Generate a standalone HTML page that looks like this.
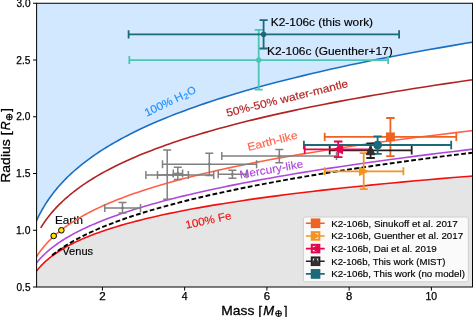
<!DOCTYPE html>
<html><head><meta charset="utf-8"><style>
html,body{margin:0;padding:0;background:#fff;}
svg{display:block;}
text{font-family:"Liberation Sans",sans-serif;}
svg{will-change:transform;}
</style></head><body>
<svg xmlns="http://www.w3.org/2000/svg" width="473" height="317" viewBox="0 0 473 317">
<rect x="0" y="0" width="473" height="317" fill="#fff"/>
<defs><clipPath id="ax"><rect x="36.60" y="3.25" width="435.92" height="283.75"/></clipPath></defs>
<g clip-path="url(#ax)">
<path d="M32.49,230.54 L32.87,229.51 L33.26,228.48 L33.67,227.44 L34.08,226.39 L34.51,225.34 L34.96,224.27 L35.42,223.20 L35.89,222.12 L36.37,221.03 L36.87,219.93 L37.39,218.83 L37.92,217.71 L38.47,216.59 L39.04,215.46 L39.62,214.32 L40.22,213.17 L40.84,212.02 L41.48,210.85 L42.14,209.68 L42.82,208.50 L43.52,207.31 L44.24,206.11 L44.99,204.90 L45.75,203.69 L46.54,202.46 L47.36,201.23 L48.20,199.98 L49.07,198.73 L49.96,197.47 L50.88,196.20 L51.83,194.92 L52.81,193.63 L53.82,192.33 L54.86,191.03 L55.93,189.71 L57.03,188.38 L58.17,187.05 L59.35,185.70 L60.56,184.35 L61.80,182.98 L63.09,181.61 L64.42,180.22 L65.78,178.83 L67.19,177.43 L68.65,176.01 L70.15,174.59 L71.69,173.16 L73.28,171.72 L74.92,170.26 L76.61,168.80 L78.36,167.33 L80.16,165.84 L82.01,164.35 L83.92,162.85 L85.89,161.33 L87.92,159.81 L90.01,158.27 L92.17,156.73 L94.40,155.17 L96.69,153.61 L99.05,152.03 L101.49,150.44 L104.00,148.84 L106.59,147.24 L109.26,145.62 L112.01,143.99 L114.85,142.34 L117.78,140.69 L120.79,139.03 L123.90,137.35 L127.10,135.67 L130.41,133.97 L133.81,132.26 L137.32,130.54 L140.94,128.81 L144.67,127.07 L148.52,125.32 L152.49,123.56 L156.57,121.78 L160.79,119.99 L165.13,118.19 L169.61,116.38 L174.22,114.56 L178.98,112.73 L183.89,110.88 L188.95,109.02 L194.16,107.15 L199.53,105.27 L205.08,103.38 L210.79,101.47 L216.68,99.56 L222.75,97.63 L229.00,95.69 L235.45,93.73 L242.10,91.77 L248.96,89.79 L256.03,87.80 L263.31,85.80 L270.82,83.78 L278.56,81.75 L286.55,79.71 L294.77,77.66 L303.26,75.60 L312.00,73.52 L321.01,71.43 L330.31,69.33 L339.89,67.21 L349.76,65.08 L359.94,62.94 L370.44,60.79 L381.26,58.62 L392.41,56.44 L403.91,54.24 L415.76,52.04 L427.98,49.82 L440.58,47.59 L453.56,45.34 L466.95,43.08 L480.75,40.81 L480.75,-1.75 L32.49,-1.75 Z" fill="#d2e8fe"/>
<path d="M32.49,276.78 L32.87,276.18 L33.26,275.58 L33.67,274.97 L34.08,274.35 L34.51,273.74 L34.96,273.11 L35.42,272.49 L35.89,271.86 L36.37,271.22 L36.87,270.59 L37.39,269.94 L37.92,269.30 L38.47,268.65 L39.04,267.99 L39.62,267.33 L40.22,266.67 L40.84,266.00 L41.48,265.33 L42.14,264.66 L42.82,263.98 L43.52,263.29 L44.24,262.60 L44.99,261.91 L45.75,261.21 L46.54,260.51 L47.36,259.81 L48.20,259.10 L49.07,258.39 L49.96,257.67 L50.88,256.94 L51.83,256.22 L52.81,255.49 L53.82,254.75 L54.86,254.01 L55.93,253.27 L57.03,252.52 L58.17,251.77 L59.35,251.01 L60.56,250.25 L61.80,249.48 L63.09,248.72 L64.42,247.94 L65.78,247.16 L67.19,246.38 L68.65,245.59 L70.15,244.80 L71.69,244.00 L73.28,243.20 L74.92,242.40 L76.61,241.59 L78.36,240.78 L80.16,239.96 L82.01,239.14 L83.92,238.31 L85.89,237.48 L87.92,236.64 L90.01,235.80 L92.17,234.96 L94.40,234.11 L96.69,233.26 L99.05,232.40 L101.49,231.54 L104.00,230.67 L106.59,229.80 L109.26,228.93 L112.01,228.05 L114.85,227.17 L117.78,226.28 L120.79,225.39 L123.90,224.49 L127.10,223.59 L130.41,222.68 L133.81,221.77 L137.32,220.86 L140.94,219.94 L144.67,219.02 L148.52,218.09 L152.49,217.16 L156.57,216.22 L160.79,215.28 L165.13,214.34 L169.61,213.39 L174.22,212.44 L178.98,211.48 L183.89,210.52 L188.95,209.55 L194.16,208.58 L199.53,207.61 L205.08,206.63 L210.79,205.65 L216.68,204.66 L222.75,203.67 L229.00,202.67 L235.45,201.67 L242.10,200.67 L248.96,199.66 L256.03,198.65 L263.31,197.63 L270.82,196.61 L278.56,195.59 L286.55,194.56 L294.77,193.53 L303.26,192.49 L312.00,191.45 L321.01,190.40 L330.31,189.35 L339.89,188.30 L349.76,187.24 L359.94,186.18 L370.44,185.12 L381.26,184.05 L392.41,182.97 L403.91,181.90 L415.76,180.82 L427.98,179.73 L440.58,178.64 L453.56,177.55 L466.95,176.45 L480.75,175.35 L480.75,292.00 L32.49,292.00 Z" fill="#e5e5e5"/>
<text x="55.04" y="223.50" font-size="10.6" fill="#000" text-anchor="start" textLength="27.92" lengthAdjust="spacingAndGlyphs" stroke="#000" stroke-width="0.15">Earth</text>
<text x="62.35" y="255.00" font-size="10.6" fill="#000" text-anchor="start" textLength="30.74" lengthAdjust="spacingAndGlyphs" stroke="#000" stroke-width="0.15">Venus</text>
<path d="M32.49,230.54 L32.87,229.51 L33.26,228.48 L33.67,227.44 L34.08,226.39 L34.51,225.34 L34.96,224.27 L35.42,223.20 L35.89,222.12 L36.37,221.03 L36.87,219.93 L37.39,218.83 L37.92,217.71 L38.47,216.59 L39.04,215.46 L39.62,214.32 L40.22,213.17 L40.84,212.02 L41.48,210.85 L42.14,209.68 L42.82,208.50 L43.52,207.31 L44.24,206.11 L44.99,204.90 L45.75,203.69 L46.54,202.46 L47.36,201.23 L48.20,199.98 L49.07,198.73 L49.96,197.47 L50.88,196.20 L51.83,194.92 L52.81,193.63 L53.82,192.33 L54.86,191.03 L55.93,189.71 L57.03,188.38 L58.17,187.05 L59.35,185.70 L60.56,184.35 L61.80,182.98 L63.09,181.61 L64.42,180.22 L65.78,178.83 L67.19,177.43 L68.65,176.01 L70.15,174.59 L71.69,173.16 L73.28,171.72 L74.92,170.26 L76.61,168.80 L78.36,167.33 L80.16,165.84 L82.01,164.35 L83.92,162.85 L85.89,161.33 L87.92,159.81 L90.01,158.27 L92.17,156.73 L94.40,155.17 L96.69,153.61 L99.05,152.03 L101.49,150.44 L104.00,148.84 L106.59,147.24 L109.26,145.62 L112.01,143.99 L114.85,142.34 L117.78,140.69 L120.79,139.03 L123.90,137.35 L127.10,135.67 L130.41,133.97 L133.81,132.26 L137.32,130.54 L140.94,128.81 L144.67,127.07 L148.52,125.32 L152.49,123.56 L156.57,121.78 L160.79,119.99 L165.13,118.19 L169.61,116.38 L174.22,114.56 L178.98,112.73 L183.89,110.88 L188.95,109.02 L194.16,107.15 L199.53,105.27 L205.08,103.38 L210.79,101.47 L216.68,99.56 L222.75,97.63 L229.00,95.69 L235.45,93.73 L242.10,91.77 L248.96,89.79 L256.03,87.80 L263.31,85.80 L270.82,83.78 L278.56,81.75 L286.55,79.71 L294.77,77.66 L303.26,75.60 L312.00,73.52 L321.01,71.43 L330.31,69.33 L339.89,67.21 L349.76,65.08 L359.94,62.94 L370.44,60.79 L381.26,58.62 L392.41,56.44 L403.91,54.24 L415.76,52.04 L427.98,49.82 L440.58,47.59 L453.56,45.34 L466.95,43.08 L480.75,40.81" fill="none" stroke="#1a6fc2" stroke-width="1.6"/>
<path d="M40.71,227.87 L41.26,226.99 L41.82,226.10 L42.39,225.21 L42.98,224.31 L43.58,223.41 L44.20,222.50 L44.84,221.58 L45.49,220.66 L46.16,219.73 L46.85,218.80 L47.56,217.86 L48.28,216.92 L49.03,215.97 L49.79,215.01 L50.58,214.05 L51.38,213.08 L52.21,212.11 L53.06,211.13 L53.93,210.15 L54.82,209.16 L55.74,208.16 L56.68,207.16 L57.65,206.15 L58.64,205.14 L59.66,204.12 L60.71,203.09 L61.78,202.06 L62.88,201.02 L64.02,199.98 L65.18,198.93 L66.37,197.87 L67.59,196.81 L68.85,195.74 L70.14,194.67 L71.46,193.59 L72.82,192.50 L74.21,191.41 L75.64,190.31 L77.11,189.20 L78.62,188.09 L80.17,186.97 L81.76,185.85 L83.39,184.71 L85.06,183.58 L86.78,182.43 L88.54,181.28 L90.35,180.13 L92.21,178.96 L94.12,177.79 L96.08,176.62 L98.09,175.43 L100.15,174.25 L102.27,173.05 L104.44,171.85 L106.67,170.64 L108.97,169.42 L111.32,168.20 L113.73,166.97 L116.21,165.74 L118.75,164.49 L121.36,163.25 L124.04,161.99 L126.79,160.73 L129.61,159.46 L132.51,158.18 L135.48,156.90 L138.54,155.61 L141.67,154.31 L144.89,153.01 L148.19,151.70 L151.58,150.38 L155.06,149.06 L158.63,147.73 L162.29,146.39 L166.06,145.04 L169.92,143.69 L173.88,142.33 L177.95,140.97 L182.13,139.59 L186.42,138.21 L190.82,136.82 L195.34,135.43 L199.97,134.03 L204.73,132.62 L209.62,131.20 L214.63,129.78 L219.78,128.35 L225.07,126.91 L230.49,125.47 L236.06,124.01 L241.77,122.55 L247.64,121.09 L253.66,119.61 L259.84,118.13 L266.19,116.64 L272.70,115.15 L279.39,113.64 L286.25,112.13 L293.29,110.61 L300.52,109.09 L307.95,107.55 L315.56,106.01 L323.38,104.46 L331.41,102.91 L339.65,101.35 L348.11,99.78 L356.79,98.20 L365.70,96.61 L374.85,95.02 L384.24,93.42 L393.87,91.81 L403.77,90.19 L413.92,88.57 L424.34,86.94 L435.04,85.30 L446.03,83.65 L457.30,82.00 L468.87,80.33 L480.75,78.66" fill="none" stroke="#b22222" stroke-width="1.6"/>
<path d="M32.49,263.70 L32.87,262.96 L33.26,262.22 L33.67,261.47 L34.08,260.72 L34.51,259.96 L34.96,259.19 L35.42,258.42 L35.89,257.65 L36.37,256.87 L36.87,256.08 L37.39,255.28 L37.92,254.48 L38.47,253.68 L39.04,252.87 L39.62,252.05 L40.22,251.23 L40.84,250.40 L41.48,249.56 L42.14,248.72 L42.82,247.88 L43.52,247.02 L44.24,246.16 L44.99,245.30 L45.75,244.43 L46.54,243.55 L47.36,242.66 L48.20,241.77 L49.07,240.88 L49.96,239.98 L50.88,239.07 L51.83,238.15 L52.81,237.23 L53.82,236.30 L54.86,235.37 L55.93,234.43 L57.03,233.48 L58.17,232.52 L59.35,231.56 L60.56,230.60 L61.80,229.62 L63.09,228.64 L64.42,227.65 L65.78,226.66 L67.19,225.66 L68.65,224.65 L70.15,223.64 L71.69,222.62 L73.28,221.59 L74.92,220.56 L76.61,219.52 L78.36,218.47 L80.16,217.41 L82.01,216.35 L83.92,215.28 L85.89,214.21 L87.92,213.12 L90.01,212.03 L92.17,210.94 L94.40,209.83 L96.69,208.72 L99.05,207.60 L101.49,206.48 L104.00,205.34 L106.59,204.20 L109.26,203.06 L112.01,201.90 L114.85,200.74 L117.78,199.57 L120.79,198.40 L123.90,197.21 L127.10,196.02 L130.41,194.82 L133.81,193.62 L137.32,192.40 L140.94,191.18 L144.67,189.95 L148.52,188.72 L152.49,187.47 L156.57,186.22 L160.79,184.96 L165.13,183.70 L169.61,182.42 L174.22,181.14 L178.98,179.85 L183.89,178.56 L188.95,177.25 L194.16,175.94 L199.53,174.62 L205.08,173.29 L210.79,171.95 L216.68,170.61 L222.75,169.26 L229.00,167.90 L235.45,166.53 L242.10,165.16 L248.96,163.77 L256.03,162.38 L263.31,160.98 L270.82,159.58 L278.56,158.16 L286.55,156.74 L294.77,155.31 L303.26,153.87 L312.00,152.42 L321.01,150.97 L330.31,149.50 L339.89,148.03 L349.76,146.55 L359.94,145.07 L370.44,143.57 L381.26,142.07 L392.41,140.55 L403.91,139.03 L415.76,137.50 L427.98,135.97 L440.58,134.42 L453.56,132.87 L466.95,131.31 L480.75,129.74" fill="none" stroke="#ff6347" stroke-width="1.6"/>
<path d="M32.49,268.57 L32.87,267.98 L33.26,267.39 L33.67,266.79 L34.08,266.19 L34.51,265.58 L34.96,264.97 L35.42,264.35 L35.89,263.73 L36.37,263.10 L36.87,262.47 L37.39,261.83 L37.92,261.19 L38.47,260.54 L39.04,259.89 L39.62,259.23 L40.22,258.56 L40.84,257.89 L41.48,257.21 L42.14,256.53 L42.82,255.84 L43.52,255.15 L44.24,254.45 L44.99,253.74 L45.75,253.03 L46.54,252.31 L47.36,251.59 L48.20,250.86 L49.07,250.12 L49.96,249.38 L50.88,248.63 L51.83,247.88 L52.81,247.12 L53.82,246.35 L54.86,245.57 L55.93,244.79 L57.03,244.01 L58.17,243.21 L59.35,242.41 L60.56,241.60 L61.80,240.79 L63.09,239.96 L64.42,239.14 L65.78,238.30 L67.19,237.46 L68.65,236.61 L70.15,235.75 L71.69,234.88 L73.28,234.01 L74.92,233.13 L76.61,232.25 L78.36,231.35 L80.16,230.45 L82.01,229.54 L83.92,228.62 L85.89,227.69 L87.92,226.76 L90.01,225.82 L92.17,224.87 L94.40,223.91 L96.69,222.94 L99.05,221.97 L101.49,220.99 L104.00,219.99 L106.59,218.99 L109.26,217.98 L112.01,216.97 L114.85,215.94 L117.78,214.91 L120.79,213.86 L123.90,212.81 L127.10,211.75 L130.41,210.67 L133.81,209.59 L137.32,208.50 L140.94,207.40 L144.67,206.30 L148.52,205.18 L152.49,204.05 L156.57,202.91 L160.79,201.76 L165.13,200.60 L169.61,199.44 L174.22,198.26 L178.98,197.07 L183.89,195.87 L188.95,194.66 L194.16,193.44 L199.53,192.21 L205.08,190.97 L210.79,189.72 L216.68,188.46 L222.75,187.18 L229.00,185.90 L235.45,184.60 L242.10,183.29 L248.96,181.97 L256.03,180.64 L263.31,179.30 L270.82,177.95 L278.56,176.58 L286.55,175.20 L294.77,173.81 L303.26,172.41 L312.00,171.00 L321.01,169.57 L330.31,168.13 L339.89,166.68 L349.76,165.21 L359.94,163.74 L370.44,162.24 L381.26,160.74 L392.41,159.22 L403.91,157.69 L415.76,156.15 L427.98,154.59 L440.58,153.02 L453.56,151.43 L466.95,149.84 L480.75,148.22" fill="none" stroke="#ae48d8" stroke-width="1.6"/>
<path d="M32.49,276.78 L32.87,276.18 L33.26,275.58 L33.67,274.97 L34.08,274.35 L34.51,273.74 L34.96,273.11 L35.42,272.49 L35.89,271.86 L36.37,271.22 L36.87,270.59 L37.39,269.94 L37.92,269.30 L38.47,268.65 L39.04,267.99 L39.62,267.33 L40.22,266.67 L40.84,266.00 L41.48,265.33 L42.14,264.66 L42.82,263.98 L43.52,263.29 L44.24,262.60 L44.99,261.91 L45.75,261.21 L46.54,260.51 L47.36,259.81 L48.20,259.10 L49.07,258.39 L49.96,257.67 L50.88,256.94 L51.83,256.22 L52.81,255.49 L53.82,254.75 L54.86,254.01 L55.93,253.27 L57.03,252.52 L58.17,251.77 L59.35,251.01 L60.56,250.25 L61.80,249.48 L63.09,248.72 L64.42,247.94 L65.78,247.16 L67.19,246.38 L68.65,245.59 L70.15,244.80 L71.69,244.00 L73.28,243.20 L74.92,242.40 L76.61,241.59 L78.36,240.78 L80.16,239.96 L82.01,239.14 L83.92,238.31 L85.89,237.48 L87.92,236.64 L90.01,235.80 L92.17,234.96 L94.40,234.11 L96.69,233.26 L99.05,232.40 L101.49,231.54 L104.00,230.67 L106.59,229.80 L109.26,228.93 L112.01,228.05 L114.85,227.17 L117.78,226.28 L120.79,225.39 L123.90,224.49 L127.10,223.59 L130.41,222.68 L133.81,221.77 L137.32,220.86 L140.94,219.94 L144.67,219.02 L148.52,218.09 L152.49,217.16 L156.57,216.22 L160.79,215.28 L165.13,214.34 L169.61,213.39 L174.22,212.44 L178.98,211.48 L183.89,210.52 L188.95,209.55 L194.16,208.58 L199.53,207.61 L205.08,206.63 L210.79,205.65 L216.68,204.66 L222.75,203.67 L229.00,202.67 L235.45,201.67 L242.10,200.67 L248.96,199.66 L256.03,198.65 L263.31,197.63 L270.82,196.61 L278.56,195.59 L286.55,194.56 L294.77,193.53 L303.26,192.49 L312.00,191.45 L321.01,190.40 L330.31,189.35 L339.89,188.30 L349.76,187.24 L359.94,186.18 L370.44,185.12 L381.26,184.05 L392.41,182.97 L403.91,181.90 L415.76,180.82 L427.98,179.73 L440.58,178.64 L453.56,177.55 L466.95,176.45 L480.75,175.35" fill="none" stroke="#f01010" stroke-width="1.6"/>
<path d="M51.12,256.10 L51.83,255.52 L52.55,254.93 L53.30,254.34 L54.06,253.74 L54.84,253.14 L55.63,252.54 L56.45,251.93 L57.28,251.32 L58.13,250.71 L59.00,250.09 L59.89,249.46 L60.81,248.83 L61.74,248.20 L62.69,247.57 L63.67,246.93 L64.67,246.28 L65.69,245.63 L66.73,244.98 L67.80,244.33 L68.90,243.66 L70.02,243.00 L71.16,242.33 L72.33,241.65 L73.53,240.98 L74.75,240.29 L76.00,239.61 L77.29,238.91 L78.60,238.22 L79.94,237.52 L81.31,236.81 L82.71,236.10 L84.15,235.39 L85.62,234.67 L87.12,233.94 L88.66,233.21 L90.23,232.48 L91.84,231.74 L93.48,231.00 L95.16,230.25 L96.88,229.50 L98.65,228.74 L100.45,227.98 L102.29,227.21 L104.17,226.44 L106.10,225.66 L108.07,224.88 L110.09,224.09 L112.15,223.30 L114.27,222.50 L116.43,221.70 L118.63,220.89 L120.89,220.08 L123.21,219.26 L125.57,218.43 L127.99,217.60 L130.46,216.77 L132.99,215.93 L135.58,215.08 L138.23,214.23 L140.94,213.38 L143.71,212.51 L146.55,211.65 L149.45,210.77 L152.42,209.89 L155.45,209.01 L158.56,208.12 L161.73,207.22 L164.98,206.32 L168.30,205.41 L171.70,204.50 L175.18,203.58 L178.74,202.65 L182.38,201.72 L186.10,200.78 L189.91,199.84 L193.80,198.89 L197.78,197.93 L201.86,196.97 L206.03,196.00 L210.29,195.03 L214.66,194.05 L219.12,193.06 L223.69,192.07 L228.36,191.07 L233.13,190.06 L238.02,189.05 L243.02,188.03 L248.13,187.00 L253.36,185.97 L258.72,184.93 L264.19,183.88 L269.79,182.83 L275.52,181.77 L281.38,180.70 L287.37,179.63 L293.50,178.55 L299.77,177.46 L306.19,176.37 L312.75,175.26 L319.47,174.16 L326.33,173.04 L333.36,171.92 L340.55,170.79 L347.90,169.65 L355.42,168.51 L363.11,167.35 L370.98,166.19 L379.03,165.03 L387.26,163.85 L395.69,162.67 L404.30,161.48 L413.12,160.28 L422.14,159.08 L431.36,157.87 L440.79,156.64 L450.45,155.42 L460.32,154.18 L470.42,152.94 L480.75,151.68" fill="none" stroke="#000" stroke-width="1.9" stroke-dasharray="4.8,2.4" stroke-dashoffset="5.9"/>
<path d="M104.80,208.00 H140.50 M104.80,204.00 V212.00 M140.50,204.00 V212.00" stroke="#808080" stroke-width="1.5" fill="none"/><path d="M122.50,202.50 V213.00 M118.50,202.50 H126.50 M118.50,213.00 H126.50" stroke="#808080" stroke-width="1.5" fill="none"/><path d="M145.90,175.00 H213.70 M145.90,171.00 V179.00 M213.70,171.00 V179.00" stroke="#808080" stroke-width="1.5" fill="none"/><path d="M167.20,149.90 V199.30 M163.20,149.90 H171.20 M163.20,199.30 H171.20" stroke="#808080" stroke-width="1.5" fill="none"/><path d="M157.50,175.00 H188.40 M157.50,171.00 V179.00 M188.40,171.00 V179.00" stroke="#808080" stroke-width="1.5" fill="none"/><path d="M173.30,173.60 H182.60 M173.30,169.60 V177.60 M182.60,169.60 V177.60" stroke="#808080" stroke-width="1.5" fill="none"/><path d="M177.80,167.30 V179.40 M173.80,167.30 H181.80 M173.80,179.40 H181.80" stroke="#808080" stroke-width="1.5" fill="none"/><path d="M162.50,164.20 H256.60 M162.50,160.20 V168.20 M256.60,160.20 V168.20" stroke="#808080" stroke-width="1.5" fill="none"/><path d="M209.30,153.30 V175.50 M205.30,153.30 H213.30 M205.30,175.50 H213.30" stroke="#808080" stroke-width="1.5" fill="none"/><path d="M218.20,174.30 H247.00 M218.20,170.30 V178.30 M247.00,170.30 V178.30" stroke="#808080" stroke-width="1.5" fill="none"/><path d="M232.40,170.20 V178.30 M228.40,170.20 H236.40 M228.40,178.30 H236.40" stroke="#808080" stroke-width="1.5" fill="none"/><path d="M221.80,156.00 H336.50 M221.80,152.00 V160.00 M336.50,152.00 V160.00" stroke="#808080" stroke-width="1.5" fill="none"/><path d="M279.30,149.50 V162.80 M275.30,149.50 H283.30 M275.30,162.80 H283.30" stroke="#808080" stroke-width="1.5" fill="none"/><path d="M129.30,60.10 H388.10 M129.30,56.10 V64.10 M388.10,56.10 V64.10" stroke="#4cc6b2" stroke-width="1.8" fill="none"/><path d="M258.70,29.80 V89.70 M254.70,29.80 H262.70 M254.70,89.70 H262.70" stroke="#4cc6b2" stroke-width="1.8" fill="none"/><path d="M128.60,34.40 H399.10 M128.60,30.30 V38.50 M399.10,30.30 V38.50" stroke="#1b6a78" stroke-width="1.8" fill="none"/><path d="M263.60,20.20 V48.50 M259.50,20.20 H267.70 M259.50,48.50 H267.70" stroke="#1b6a78" stroke-width="1.8" fill="none"/><path d="M324.70,136.90 H456.30 M324.70,132.70 V141.10 M456.30,132.70 V141.10" stroke="#ee6322" stroke-width="1.8" fill="none"/><path d="M390.40,118.00 V156.20 M386.20,118.00 H394.60 M386.20,156.20 H394.60" stroke="#ee6322" stroke-width="1.8" fill="none"/><path d="M324.70,171.30 H403.40 M324.70,167.30 V175.30 M403.40,167.30 V175.30" stroke="#f39422" stroke-width="1.8" fill="none"/><path d="M363.70,153.20 V189.10 M359.70,153.20 H367.70 M359.70,189.10 H367.70" stroke="#f39422" stroke-width="1.8" fill="none"/><path d="M329.70,150.30 H411.70 M329.70,146.10 V154.50 M411.70,146.10 V154.50" stroke="#222222" stroke-width="1.8" fill="none"/><path d="M370.60,143.40 V158.00 M366.40,143.40 H374.80 M366.40,158.00 H374.80" stroke="#222222" stroke-width="1.8" fill="none"/><path d="M303.90,145.00 H451.20 M303.90,140.80 V149.20 M451.20,140.80 V149.20" stroke="#1b6a78" stroke-width="1.8" fill="none"/><path d="M377.60,136.30 V153.80 M373.40,136.30 H381.80 M373.40,153.80 H381.80" stroke="#1b6a78" stroke-width="1.8" fill="none"/><path d="M304.70,149.40 H370.50 M304.70,145.10 V153.70 M370.50,145.10 V153.70" stroke="#e3064f" stroke-width="1.8" fill="none"/><path d="M338.20,141.50 V157.10 M333.90,141.50 H342.50 M333.90,157.10 H342.50" stroke="#e3064f" stroke-width="1.8" fill="none"/>
<circle cx="122.50" cy="208.00" r="1.10" fill="#808080" stroke="#808080" stroke-width="1"/><circle cx="167.20" cy="175.00" r="1.10" fill="#808080" stroke="#808080" stroke-width="1"/><circle cx="173.00" cy="175.00" r="1.10" fill="#808080" stroke="#808080" stroke-width="1"/><circle cx="177.80" cy="173.60" r="1.10" fill="#808080" stroke="#808080" stroke-width="1"/><circle cx="209.30" cy="164.20" r="1.10" fill="#808080" stroke="#808080" stroke-width="1"/><circle cx="232.40" cy="174.30" r="1.10" fill="#808080" stroke="#808080" stroke-width="1"/><circle cx="279.30" cy="156.00" r="1.10" fill="#808080" stroke="#808080" stroke-width="1"/><circle cx="258.70" cy="60.10" r="2.40" fill="#4cc6b2" stroke="#4cc6b2" stroke-width="1"/><circle cx="263.60" cy="34.40" r="2.40" fill="#1b6a78" stroke="#1b6a78" stroke-width="1"/><rect x="386.45" y="132.95" width="7.90" height="7.90" fill="#ee6322" stroke="#ee6322" stroke-width="1"/><path d="M368.00,171.30 L359.40,167.00 L359.40,175.60 Z" fill="#f39422" stroke="#f39422" stroke-width="1"/><path d="M370.60,145.90 L366.20,154.70 L375.00,154.70 Z" fill="#2e2e2e" stroke="#2e2e2e" stroke-width="1"/><circle cx="377.60" cy="145.00" r="4.00" fill="#1b6a78" stroke="#1b6a78" stroke-width="1"/><path d="M333.80,149.40 L342.60,145.00 L342.60,153.80 Z" fill="#e3064f" stroke="#e3064f" stroke-width="1"/>
<circle cx="53.7" cy="235.9" r="2.8" fill="#ffe100" stroke="#000" stroke-width="1"/>
<circle cx="61.35" cy="230.3" r="2.8" fill="#ffe100" stroke="#000" stroke-width="1"/>
<text x="270.83" y="26.00" font-size="10.6" fill="#000" text-anchor="start" textLength="102.21" lengthAdjust="spacingAndGlyphs" stroke="#000" stroke-width="0.15">K2-106c (this work)</text>
<text x="267.02" y="55.20" font-size="10.6" fill="#000" text-anchor="start" textLength="125.62" lengthAdjust="spacingAndGlyphs" stroke="#000" stroke-width="0.15">K2-106c (Guenther+17)</text>
<g transform="translate(146.70 116.70) rotate(-26.00) scale(1.0374 1)"><text x="0.00" y="0.00" font-size="11.0" fill="#1e90ff" text-anchor="start" textLength="40.20" lengthAdjust="spacingAndGlyphs" stroke="#1e90ff" stroke-width="0.15">100% H</text><text x="40.60" y="1.80" font-size="7.699999999999999" fill="#1e90ff" text-anchor="start" textLength="4.60" lengthAdjust="spacingAndGlyphs" stroke="#1e90ff" stroke-width="0.15">2</text><text x="45.60" y="0.00" font-size="11.0" fill="#1e90ff" text-anchor="start" textLength="8.10" lengthAdjust="spacingAndGlyphs" stroke="#1e90ff" stroke-width="0.15">O</text></g>
<g transform="translate(227.20 116.80) rotate(-13.85)"><text x="0.00" y="0.00" font-size="11.0" fill="#b22222" text-anchor="start" textLength="125.34" lengthAdjust="spacingAndGlyphs" stroke="#b22222" stroke-width="0.15">50%-50% water-mantle</text></g>
<g transform="translate(248.50 151.10) rotate(-14.36)"><text x="0.00" y="0.00" font-size="11.0" fill="#ff6347" text-anchor="start" textLength="51.33" lengthAdjust="spacingAndGlyphs" stroke="#ff6347" stroke-width="0.15">Earth-like</text></g>
<g transform="translate(240.20 178.50) rotate(-9.90)"><text x="0.00" y="0.00" font-size="11.0" fill="#ae48d8" text-anchor="start" textLength="64.58" lengthAdjust="spacingAndGlyphs" stroke="#ae48d8" stroke-width="0.15">Mercury-like</text></g>
<g transform="translate(186.30 228.80) rotate(-12.11)"><text x="0.00" y="0.00" font-size="11.0" fill="#f01010" text-anchor="start" textLength="46.72" lengthAdjust="spacingAndGlyphs" stroke="#f01010" stroke-width="0.15">100% Fe</text></g>
<rect x="303.4" y="217.0" width="164.9" height="64.8" rx="2" ry="2" fill="#fff" fill-opacity="0.8" stroke="#cccccc" stroke-width="0.9"/>
<path d="M305.9,223.30 H324.7" stroke="#ee6322" stroke-width="1.6"/>
<rect x="311.80" y="219.55" width="7.5" height="7.5" fill="#fff" stroke="#ee6322" stroke-width="2.1"/>
<rect x="311.65" y="219.40" width="7.80" height="7.80" fill="#ee6322" stroke="#ee6322" stroke-width="1"/>
<text x="331.30" y="226.60" font-size="9.0" fill="#000" text-anchor="start" textLength="126.50" lengthAdjust="spacingAndGlyphs" stroke="#000" stroke-width="0.15">K2-106b, Sinukoff et al. 2017</text>
<path d="M305.9,235.95 H324.7" stroke="#f39422" stroke-width="1.6"/>
<rect x="311.80" y="232.20" width="7.5" height="7.5" fill="#fff" stroke="#f39422" stroke-width="2.1"/>
<path d="M319.45,235.95 L311.65,232.05 L311.65,239.85 Z" fill="#f39422" stroke="#f39422" stroke-width="1"/>
<text x="331.30" y="239.25" font-size="9.0" fill="#000" text-anchor="start" textLength="131.90" lengthAdjust="spacingAndGlyphs" stroke="#000" stroke-width="0.15">K2-106b, Guenther et al. 2017</text>
<path d="M305.9,248.60 H324.7" stroke="#e3064f" stroke-width="1.6"/>
<rect x="311.80" y="244.85" width="7.5" height="7.5" fill="#fff" stroke="#e3064f" stroke-width="2.1"/>
<path d="M311.65,248.60 L319.45,244.70 L319.45,252.50 Z" fill="#e3064f" stroke="#e3064f" stroke-width="1"/>
<text x="331.30" y="251.90" font-size="9.0" fill="#000" text-anchor="start" textLength="105.47" lengthAdjust="spacingAndGlyphs" stroke="#000" stroke-width="0.15">K2-106b, Dai et al. 2019</text>
<path d="M305.9,261.25 H324.7" stroke="#222222" stroke-width="1.6"/>
<rect x="311.80" y="257.50" width="7.5" height="7.5" fill="#fff" stroke="#222222" stroke-width="2.1"/>
<path d="M315.55,257.35 L311.65,265.15 L319.45,265.15 Z" fill="#333" stroke="#333" stroke-width="1"/>
<text x="331.32" y="264.55" font-size="9.0" fill="#000" text-anchor="start" textLength="114.18" lengthAdjust="spacingAndGlyphs" stroke="#000" stroke-width="0.15">K2-106b, This work (MIST)</text>
<path d="M305.9,273.90 H324.7" stroke="#1b6a78" stroke-width="1.6"/>
<rect x="311.80" y="270.15" width="7.5" height="7.5" fill="#fff" stroke="#1b6a78" stroke-width="2.1"/>
<rect x="311.65" y="270.00" width="7.80" height="7.80" fill="#1b6a78" stroke="#1b6a78" stroke-width="1"/>
<text x="331.30" y="277.20" font-size="9.0" fill="#000" text-anchor="start" textLength="133.61" lengthAdjust="spacingAndGlyphs" stroke="#000" stroke-width="0.15">K2-106b, This work (no model)</text>
</g>
<rect x="36.60" y="3.25" width="435.92" height="283.75" fill="none" stroke="#000" stroke-width="1"/>
<path d="M102.40,287.00 V290.60" stroke="#000" stroke-width="1"/>
<text x="99.16" y="299.60" font-size="10.1" fill="#000" text-anchor="start" textLength="6.47" lengthAdjust="spacingAndGlyphs" stroke="#000" stroke-width="0.25">2</text>
<path d="M184.65,287.00 V290.60" stroke="#000" stroke-width="1"/>
<text x="181.76" y="299.60" font-size="10.1" fill="#000" text-anchor="start" textLength="5.85" lengthAdjust="spacingAndGlyphs" stroke="#000" stroke-width="0.25">4</text>
<path d="M266.90,287.00 V290.60" stroke="#000" stroke-width="1"/>
<text x="263.67" y="299.60" font-size="10.1" fill="#000" text-anchor="start" textLength="6.39" lengthAdjust="spacingAndGlyphs" stroke="#000" stroke-width="0.25">6</text>
<path d="M349.15,287.00 V290.60" stroke="#000" stroke-width="1"/>
<text x="346.01" y="299.60" font-size="10.1" fill="#000" text-anchor="start" textLength="6.28" lengthAdjust="spacingAndGlyphs" stroke="#000" stroke-width="0.25">8</text>
<path d="M431.40,287.00 V290.60" stroke="#000" stroke-width="1"/>
<text x="425.41" y="299.60" font-size="10.1" fill="#000" text-anchor="start" textLength="11.60" lengthAdjust="spacingAndGlyphs" stroke="#000" stroke-width="0.25">10</text>
<path d="M33.00,287.00 H36.60" stroke="#000" stroke-width="1"/>
<text x="16.51" y="290.50" font-size="10.1" fill="#000" text-anchor="start" textLength="14.02" lengthAdjust="spacingAndGlyphs" stroke="#000" stroke-width="0.25">0.5</text>
<path d="M33.00,230.25 H36.60" stroke="#000" stroke-width="1"/>
<text x="16.11" y="233.75" font-size="10.1" fill="#000" text-anchor="start" textLength="14.39" lengthAdjust="spacingAndGlyphs" stroke="#000" stroke-width="0.25">1.0</text>
<path d="M33.00,173.50 H36.60" stroke="#000" stroke-width="1"/>
<text x="16.11" y="177.00" font-size="10.1" fill="#000" text-anchor="start" textLength="14.43" lengthAdjust="spacingAndGlyphs" stroke="#000" stroke-width="0.25">1.5</text>
<path d="M33.00,116.75 H36.60" stroke="#000" stroke-width="1"/>
<text x="16.39" y="120.25" font-size="10.1" fill="#000" text-anchor="start" textLength="14.11" lengthAdjust="spacingAndGlyphs" stroke="#000" stroke-width="0.25">2.0</text>
<path d="M33.00,60.00 H36.60" stroke="#000" stroke-width="1"/>
<text x="16.39" y="63.50" font-size="10.1" fill="#000" text-anchor="start" textLength="14.14" lengthAdjust="spacingAndGlyphs" stroke="#000" stroke-width="0.25">2.5</text>
<path d="M33.00,3.25 H36.60" stroke="#000" stroke-width="1"/>
<text x="16.52" y="6.75" font-size="10.1" fill="#000" text-anchor="start" textLength="13.98" lengthAdjust="spacingAndGlyphs" stroke="#000" stroke-width="0.25">3.0</text>
<text x="221.26" y="314.50" font-size="13.2" fill="#000" text-anchor="start" textLength="40.85" lengthAdjust="spacingAndGlyphs" stroke="#000" stroke-width="0.3">Mass [</text>
<text x="263.20" y="314.50" font-size="13.2" fill="#000" text-anchor="start" textLength="10.90" lengthAdjust="spacingAndGlyphs" font-style="italic" stroke="#000" stroke-width="0.3">M</text>
<circle cx="278.60" cy="313.60" r="2.90" fill="none" stroke="#000" stroke-width="1.0"/><path d="M275.70,313.60 H281.50 M278.60,310.70 V316.50" stroke="#000" stroke-width="1.0"/>
<text x="284.00" y="314.50" font-size="13.2" fill="#000" text-anchor="start" textLength="3.50" lengthAdjust="spacingAndGlyphs" stroke="#000" stroke-width="0.3">]</text>
<g transform="translate(9.8 0) rotate(-90)"><text x="-182.75" y="0.00" font-size="13.2" fill="#000" text-anchor="start" textLength="51.31" lengthAdjust="spacingAndGlyphs" stroke="#000" stroke-width="0.3">Radius [</text><text x="-130.33" y="0.00" font-size="13.2" fill="#000" text-anchor="start" textLength="8.91" lengthAdjust="spacingAndGlyphs" font-style="italic" stroke="#000" stroke-width="0.3">R</text><circle cx="-117.05" cy="-0.45" r="2.90" fill="none" stroke="#000" stroke-width="1.0"/><path d="M-119.95,-0.45 H-114.15 M-117.05,-3.35 V2.45" stroke="#000" stroke-width="1.0"/><text x="-111.70" y="0.00" font-size="13.2" fill="#000" text-anchor="start" textLength="3.63" lengthAdjust="spacingAndGlyphs" stroke="#000" stroke-width="0.3">]</text></g>
</svg>
</body></html>
